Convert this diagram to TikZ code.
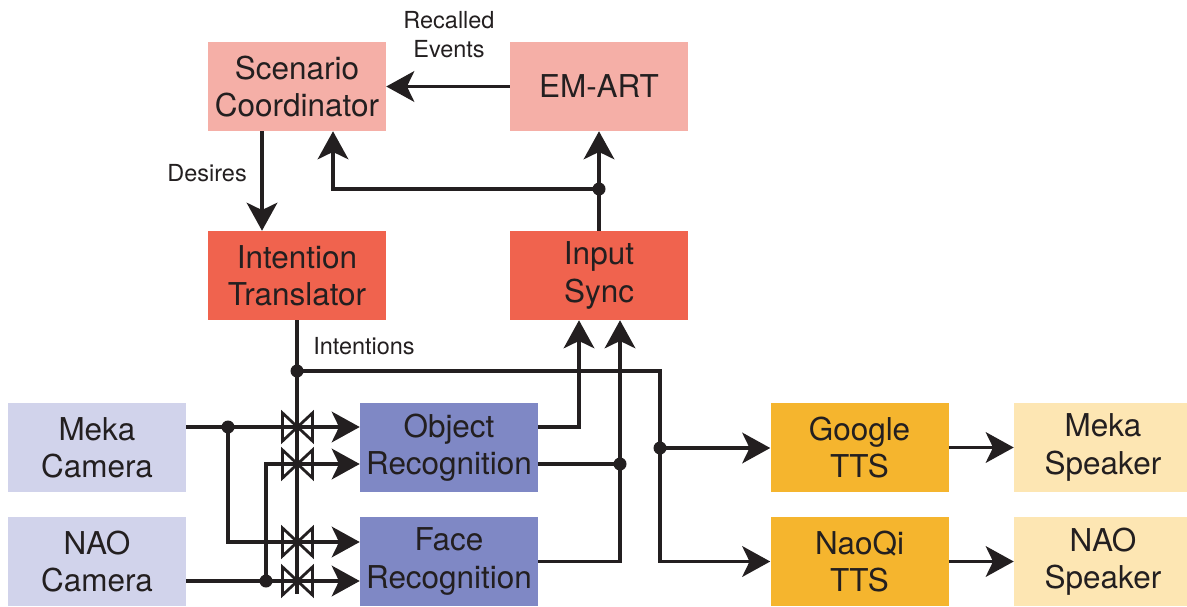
\documentclass[tikz,border=0pt]{standalone}
\usepackage{fontspec}
\setmainfont{TeX Gyre Heros}
\usetikzlibrary{arrows.meta}
\definecolor{ink}{HTML}{231F20}
\definecolor{lsalmon}{HTML}{F5AFA7}
\definecolor{tomatoc}{HTML}{F0634E}
\definecolor{lavend}{HTML}{D1D3EB}
\definecolor{periw}{HTML}{7F88C5}
\definecolor{amber}{HTML}{F5B52E}
\definecolor{cream}{HTML}{FDE6B3}
\begin{document}
\begin{tikzpicture}[x=0.75pt,y=-0.75pt,
  box/.style={rectangle, inner sep=0pt, minimum width=133.5pt, minimum height=66.75pt,
    align=center, text=ink, font=\fontsize{23.6}{28}\selectfont},
  wire/.style={draw=ink, line width=2.5pt},
  conn/.style={wire, -{Stealth[length=21pt,width=23pt,inset=5.5pt]}},
  dot/.style={circle, fill=ink, inner sep=0pt, minimum size=9.75pt},
  lbl/.style={font=\fontsize{17.6}{21.75}\selectfont, text=ink, inner sep=0pt, align=center},
  valve/.style={draw=ink, line width=2.1pt, line join=miter}]
\useasboundingbox (0,0) rectangle (1187,606);
\clip (0,0) rectangle (1187,606);

% boxes
\node[box, fill=lsalmon] (sc) at (297,86.5) {Scenario\\Coordinator};
\node[box, fill=lsalmon] (em) at (599,86.5) {EM-ART};
\node[box, fill=tomatoc] (it) at (297,275.5) {Intention\\Translator};
\node[box, fill=tomatoc] (is) at (599,275.5) {Input\\Sync};
\node[box, fill=lavend] (mc) at (97,447.5) {Meka\\Camera};
\node[box, fill=lavend] (nc) at (97,561.5) {NAO\\Camera};
\node[box, fill=periw] (or) at (449,447.5) {Object\\Recognition};
\node[box, fill=periw] (fr) at (449,561.5) {Face\\Recognition};
\node[box, fill=amber] (gt) at (859.5,447.5) {Google\\TTS};
\node[box, fill=amber] (nt) at (859.5,561.5) {NaoQi\\TTS};
\node[box, fill=cream] (ms) at (1103,447.5) {Meka\\Speaker};
\node[box, fill=cream] (ns) at (1103,561.5) {NAO\\Speaker};

% labels
\node[lbl] (rec) at (449,34.5) {Recalled\\Events};
\node[lbl, anchor=east] (des) at (247,173) {Desires};
\node[lbl, anchor=west] (int) at (313,346) {Intentions};

% junction coordinates
\coordinate (jm) at (228,427);
\coordinate (r3) at (228,542);
\coordinate (jn) at (266,581);
\coordinate (r2) at (266,464);
\coordinate (ji) at (297,371);
\coordinate (vb) at (297,594);
\coordinate (jt) at (660,448);
\coordinate (jo) at (620,464);
\coordinate (xa) at (579,0);
\coordinate (js) at (599,189);
\coordinate (xb) at (333,0);
\coordinate (xd) at (262,0);

% top connectors
\draw[conn] (em.west) -- (sc.east);
\draw[conn] (sc.south -| xd) -- (it.north -| xd);
\draw[conn] (is.north) -- (em.south);
\draw[conn] (js) -| (sc.south -| xb);

% inputs
\draw[conn] (mc.east |- jm) -- (or.west |- jm);
\draw[conn] (jm) -- (r3) -- (fr.west |- r3);
\draw[conn] (nc.east |- jn) -- (fr.west |- jn);
\draw[conn] (jn) -- (r2) -- (or.west |- r2);

% intentions
\draw[wire] (it.south) -- (vb);
\draw[conn] (ji) -| (jt) |- (nt.west);
\draw[conn] (jt) -- (gt.west |- jt);

% recognition outputs
\draw[conn] (or.east |- jm) -| (is.south -| xa);
\draw[wire] (or.east |- jo) -- (jo);
\draw[conn] (fr.east) -| (is.south -| jo);

% tts to speakers
\draw[conn] (gt.east) -- (ms.west);
\draw[conn] (nt.east) -- (ns.west);

% valves
\foreach \vy in {427,464,542,581}{
  \draw[valve] (282.5,\vy-14) -- (282.5,\vy+14) -- (312.5,\vy-14) -- (312.5,\vy+14) -- cycle;
}

% dots
\node[dot] (d1) at (jm) {};
\node[dot] (d2) at (jn) {};
\node[dot] (d3) at (ji) {};
\node[dot] (d4) at (jt) {};
\node[dot] (d5) at (jo) {};
\node[dot] (d6) at (js) {};
\end{tikzpicture}
\end{document}
